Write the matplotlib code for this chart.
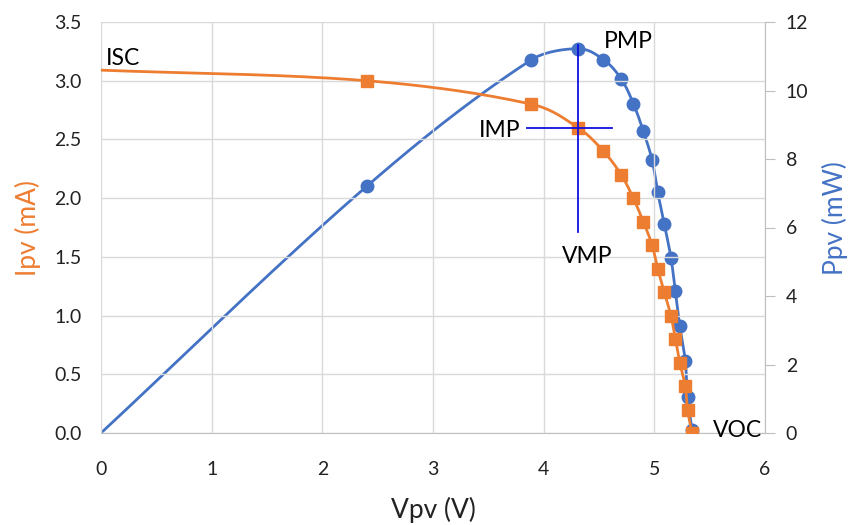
import numpy as np
import matplotlib
matplotlib.use("Agg")
import matplotlib.pyplot as plt

plt.rcParams["font.family"] = ["Lato", "DejaVu Sans"]

# --- Data ---
vpv = [0.0, 2.40, 3.89, 4.31, 4.54, 4.70, 4.81, 4.90, 4.98, 5.03, 5.09,
       5.15, 5.19, 5.23, 5.28, 5.30, 5.34]
ipv = [3.09, 3.00, 2.80, 2.60, 2.40, 2.20, 2.00, 1.80, 1.60, 1.40, 1.20,
       1.00, 0.80, 0.60, 0.40, 0.20, 0.00]
ppv = [0.0, 7.20, 10.90, 11.22, 10.90, 10.34, 9.62, 8.82, 7.97, 7.04, 6.10,
       5.12, 4.14, 3.12, 2.10, 1.05, 0.10]

ORANGE = "#ED7D31"
BLUE = "#4472C4"
GRID = "#D9D9D9"


def smooth(x, y, xr, yr, n=30):
    # smoothed line through the points, tangents scaled by segment length
    p = np.column_stack([np.asarray(x) / xr, np.asarray(y) / yr])
    m = len(p)
    out = []
    for i in range(m - 1):
        p1, p2 = p[i], p[i + 1]
        L = np.linalg.norm(p2 - p1)
        d1 = p[min(i + 1, m - 1)] - p[max(i - 1, 0)]
        d2 = p[min(i + 2, m - 1)] - p[i]
        d1 = d1 / np.linalg.norm(d1)
        d2 = d2 / np.linalg.norm(d2)
        c1 = p1 + d1 * L / 3
        c2 = p2 - d2 * L / 3
        t = np.linspace(0, 1, n)[:, None]
        seg = ((1 - t) ** 3) * p1 + 3 * ((1 - t) ** 2) * t * c1 \
            + 3 * (1 - t) * t ** 2 * c2 + t ** 3 * p2
        out.append(seg)
    out = np.vstack(out)
    return out[:, 0] * xr, out[:, 1] * yr


fig = plt.figure(figsize=(8.55, 5.25), dpi=100)
ax = fig.add_axes([101 / 855, 1 - 433 / 525, 664 / 855, 411 / 525])
ax2 = ax.twinx()

# current curve
sx, sy = smooth(vpv, ipv, 6, 3.5 * 0.75)
ax.plot(sx, sy, color=ORANGE, lw=2, zorder=3)
ax.plot(vpv[1:], ipv[1:], ls="none", marker="s", ms=8, color=ORANGE, zorder=4)

# power curve
px, py = smooth(vpv, ppv, 6, 12 * 0.75)
ax2.plot(px, py, color=BLUE, lw=2, zorder=3)
ax2.plot(vpv[1:], ppv[1:], ls="none", marker="o", ms=9, color=BLUE, zorder=4)

# maximum power point crosshair
vmp, imp = vpv[3], ipv[3]
ax.plot([3.85, 4.62], [imp, imp], color="#1010E0", lw=1.3, zorder=6)
ax.plot([vmp, vmp], [1.71, 3.30], color="#1010E0", lw=1.3, zorder=6)
ax.set_zorder(ax2.get_zorder() + 1)
ax.patch.set_visible(False)

ax.set_xlim(0, 6)
ax.set_ylim(0, 3.5)
ax2.set_ylim(0, 12)
ax.set_xticks(range(0, 7))
ax.set_yticks(np.arange(0, 3.51, 0.5))
ax.set_yticklabels([f"{v:.1f}" for v in np.arange(0, 3.51, 0.5)])
ax2.set_yticks(range(0, 13, 2))
ax.grid(True, color=GRID, lw=1)
ax.set_axisbelow(True)

for a in (ax, ax2):
    for s in a.spines.values():
        s.set_visible(False)
ax.spines["bottom"].set_visible(True)
ax.spines["bottom"].set_color("#BFBFBF")
ax2.spines["right"].set_visible(True)
ax2.spines["right"].set_color("#BFBFBF")

ax.tick_params(axis="x", length=0, pad=20, labelsize=14, labelcolor="#222222")
ax.tick_params(axis="y", length=0, pad=14, labelsize=14, labelcolor="#222222")
ax2.tick_params(axis="y", length=7, color="#BFBFBF", pad=8, labelsize=14,
                labelcolor="#222222")

# axis titles
fig.text(433 / 855, 1 - 510 / 525, "Vpv (V)", fontsize=19, color="#222222",
         ha="center", va="center")
fig.text(28 / 855, 1 - 228 / 525, "Ipv (mA)", fontsize=19, color=ORANGE,
         ha="center", va="center", rotation=90)
fig.text(835 / 855, 1 - 218 / 525, "Ppv (mW)", fontsize=19, color=BLUE,
         ha="center", va="center", rotation=90)

# point labels
ax.text(0.04, 3.19, "ISC", fontsize=16.5, ha="left", va="center")
ax.text(3.79, 2.58, "IMP", fontsize=16.5, ha="right", va="center")
ax.text(4.39, 1.50, "VMP", fontsize=16.5, ha="center", va="center")
ax.text(4.54, 3.33, "PMP", fontsize=16.5, ha="left", va="center")
ax.text(5.53, 0.02, "VOC", fontsize=16.5, ha="left", va="center")

fig.savefig("out.png", dpi=100)
